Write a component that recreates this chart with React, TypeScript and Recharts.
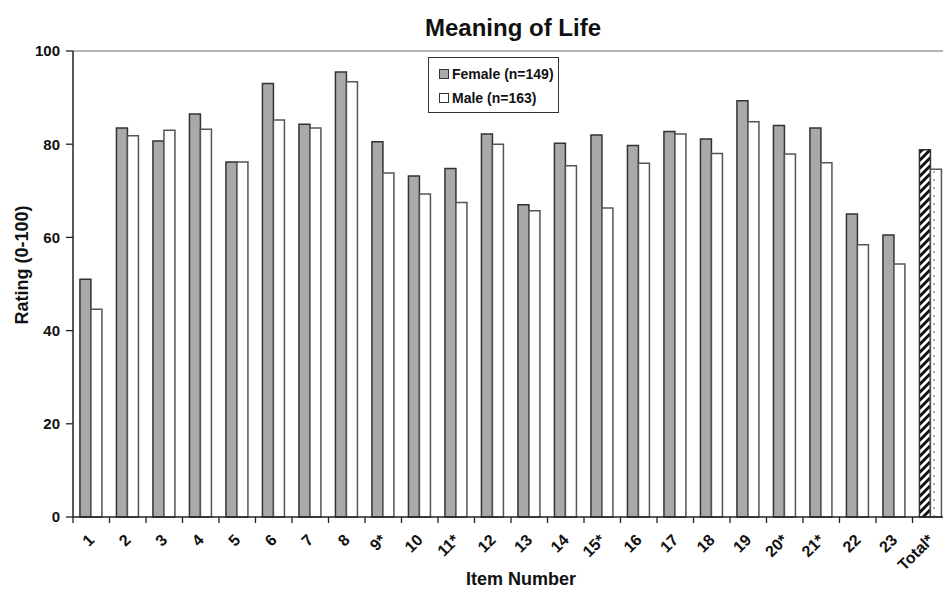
import { BarChart, Bar, XAxis, YAxis, Legend, ReferenceLine, Cell, Label } from "recharts";

const items = ["1", "2", "3", "4", "5", "6", "7", "8", "9*", "10", "11*", "12", "13", "14", "15*", "16", "17", "18", "19", "20*", "21*", "22", "23", "Total*"];
const female = [51, 83.5, 80.7, 86.5, 76.2, 93, 84.3, 95.5, 80.5, 73.2, 74.8, 82.2, 67, 80.2, 82, 79.7, 82.7, 81.1, 89.3, 84, 83.5, 65, 60.5, 78.8];
const male = [44.6, 81.8, 83, 83.2, 76.2, 85.2, 83.5, 93.4, 73.8, 69.3, 67.5, 80, 65.7, 75.4, 66.3, 75.9, 82.2, 78, 84.8, 77.9, 76, 58.4, 54.3, 74.6];
const yTicks = [0, 20, 40, 60, 80, 100];

const FONT = "'Liberation Sans', Arial, Helvetica, sans-serif";
const INK = "#222";

const data = items.map((item, i) => ({ item, female: female[i], male: male[i] }));

function ItemTick(props: any) {
  const { x, y, payload } = props;
  const half = payload.offset ?? 18;
  return (
    <g>
      <line x1={x - half} y1={y} x2={x - half} y2={y + 6} stroke={INK} strokeWidth={1.3} />
      <text
        x={x + 4}
        y={y + 24}
        transform={`rotate(-45 ${x + 4} ${y + 24})`}
        textAnchor="end"
        fontFamily={FONT}
        fontWeight="bold"
        fontSize={16}
        fill="#111"
      >
        {payload.value}
      </text>
    </g>
  );
}

function LegendBox() {
  const rows = [
    { label: "Female (n=149)", fill: "#a9a9a9" },
    { label: "Male (n=163)", fill: "#ffffff" },
  ];
  return (
    <div
      style={{
        width: 131,
        height: 56,
        border: "1.5px solid #333",
        background: "#fff",
        boxSizing: "border-box",
        paddingTop: 4,
        paddingLeft: 10,
        fontFamily: FONT,
        fontWeight: "bold",
        fontSize: 14,
        color: "#111",
        whiteSpace: "nowrap",
      }}
    >
      {rows.map((r) => (
        <div key={r.label} style={{ display: "flex", alignItems: "center", height: 24 }}>
          <span
            style={{
              display: "inline-block",
              width: 8,
              height: 8,
              border: "1.3px solid #333",
              background: r.fill,
              marginRight: 3,
            }}
          />
          {r.label}
        </div>
      ))}
    </div>
  );
}

export default function App() {
  return (
    <div style={{ position: "absolute", left: 0, top: 0, width: 943, height: 591, overflow: "hidden", background: "#fff" }}>
      <div
        style={{
          position: "absolute",
          left: 0,
          width: 1026,
          top: 14,
          textAlign: "center",
          fontFamily: FONT,
          fontWeight: "bold",
          fontSize: 24,
          color: "#111",
        }}
      >
        Meaning of Life
      </div>
      <BarChart
        width={950}
        height={591}
        data={data}
        margin={{ top: 51, right: 1, bottom: 0, left: 0 }}
        barCategoryGap="19%"
        barGap={0}
      >
        <defs>
          <pattern id="hatch" patternUnits="userSpaceOnUse" width="8" height="8">
            <rect width="8" height="8" fill="#fff" />
            <path d="M0,8 L8,0 M-2,2 L2,-2 M6,10 L10,6" stroke="#111" strokeWidth={3} />
          </pattern>
          <pattern id="dots" patternUnits="userSpaceOnUse" width="8" height="8">
            <rect width="8" height="8" fill="#fff" />
            <circle cx="6" cy="4" r="0.8" fill="#444" />
          </pattern>
        </defs>
        <ReferenceLine y={100} stroke="#9a9a9a" strokeWidth={1.5} />
        <XAxis
          dataKey="item"
          interval={0}
          height={74}
          tickSize={0}
          tickMargin={0}
          tickLine={false}
          axisLine={{ stroke: INK, strokeWidth: 1.5 }}
          tick={<ItemTick />}
        >
          <Label
            content={() => (
              <text x={521} y={585} textAnchor="middle" fontFamily={FONT} fontWeight="bold" fontSize={18} fill="#111">
                Item Number
              </text>
            )}
          />
        </XAxis>
        <YAxis
          width={73}
          domain={[0, 100]}
          ticks={yTicks}
          interval={0}
          tickSize={7}
          tickMargin={6}
          tickLine={{ stroke: INK, strokeWidth: 1.3 }}
          axisLine={{ stroke: INK, strokeWidth: 1.5 }}
          tick={{ fontFamily: FONT, fontWeight: "bold", fontSize: 15, fill: "#111" }}
        >
          <Label
            content={() => (
              <text
                x={0}
                y={0}
                transform="translate(28 265) rotate(-90)"
                textAnchor="middle"
                fontFamily={FONT}
                fontWeight="bold"
                fontSize={18}
                fill="#111"
              >
                Rating (0-100)
              </text>
            )}
          />
        </YAxis>
        <Legend
          layout="vertical"
          align="center"
          verticalAlign="middle"
          content={() => <LegendBox />}
          wrapperStyle={{ position: "absolute", left: 428, top: 57, width: 131 }}
        />
        <Bar dataKey="female" name="Female (n=149)" fill="#a9a9a9" stroke="#333" strokeWidth={1.5} isAnimationActive={false}>
          {data.map((d, i) => (
            <Cell key={d.item} fill={i === data.length - 1 ? "url(#hatch)" : "#a9a9a9"} />
          ))}
        </Bar>
        <Bar dataKey="male" name="Male (n=163)" fill="#fff" stroke="#555" strokeWidth={1.5} isAnimationActive={false}>
          {data.map((d, i) => (
            <Cell key={d.item} fill={i === data.length - 1 ? "url(#dots)" : "#fff"} />
          ))}
        </Bar>
      </BarChart>
    </div>
  );
}
